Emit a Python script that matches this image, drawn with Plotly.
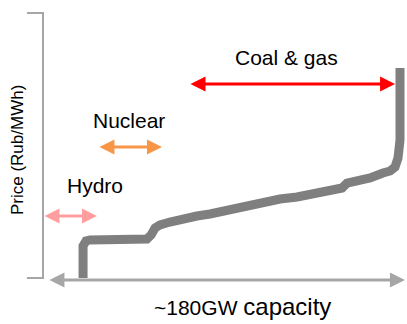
import plotly.graph_objects as go

# Merit-order supply curve: cumulative capacity (GW) vs. price (Rub/MWh)
capacity_gw = [20.2, 20.2, 21.7, 23.7, 52.4, 54.5, 56.5, 59.0, 64.0, 70.6,
               77.6, 84.2, 90.8, 95.8, 104.4, 110.9, 119.5, 128.1, 136.1,
               144.7, 150.8, 153.3, 156.3, 164.9, 171.4, 175.0, 177.5,
               179.0, 180.0, 180.0]
price = [0, 160, 185, 190, 195, 215, 250, 265, 280, 300,
         310, 320, 335, 345, 355, 375, 395, 405, 420,
         435, 450, 475, 480, 500, 525, 535, 555,
         600, 690, 1050]

# Price axis bracket
axis_x = [-8.1, 0, 0, -8.1]
axis_y = [1325, 1325, 0, 0]

# Technology spans (GW) and the price level each arrow is drawn at
segments = [
    # label, start, end, arrow level, label x, label y, colour
    ("Hydro", 0.0, 27.2, 310, 26.3, 465, "#ff9e9e"),
    ("Nuclear", 27.7, 60.0, 655, 43.3, 790, "#f79646"),
    ("Coal & gas", 73.6, 177.5, 970, 123.0, 1105, "#ff0000"),
]

# Capacity arrow along the bottom
cap_arrow = (2.5, 182.5, -10)

fig = go.Figure()
fig.add_trace(go.Scatter(x=axis_x, y=axis_y, mode="lines",
                         line=dict(color="#a6a6a6", width=2),
                         hoverinfo="skip", showlegend=False))
fig.add_trace(go.Scatter(x=capacity_gw, y=price, mode="lines",
                         line=dict(color="#7f7f7f", width=9),
                         showlegend=False))

font = dict(family="Arial, Liberation Sans, sans-serif", color="#000000")
annotations = []
for label, x0, x1, level, tx, ty, col in segments:
    annotations.append(dict(
        x=x1, y=level, ax=x0, ay=level, xref="x", yref="y",
        axref="x", ayref="y", text="", showarrow=True,
        arrowside="end+start", arrowhead=2, startarrowhead=2,
        arrowsize=1, startarrowsize=1, arrowwidth=3, arrowcolor=col,
        standoff=0, startstandoff=0))
    annotations.append(dict(
        x=tx, y=ty, xref="x", yref="y", text=label, showarrow=False,
        font=dict(size=21, **font)))

annotations.append(dict(
    x=cap_arrow[1], y=cap_arrow[2], ax=cap_arrow[0], ay=cap_arrow[2],
    xref="x", yref="y", axref="x", ayref="y", text="", showarrow=True,
    arrowside="end+start", arrowhead=2, startarrowhead=2,
    arrowsize=1, startarrowsize=1, arrowwidth=3, arrowcolor="#a6a6a6",
    standoff=0, startstandoff=0))
annotations.append(dict(
    x=100.8, y=-140, xref="x", yref="y",
    text="~180GW <span style='font-size:24px'>capacity</span>",
    showarrow=False, font=dict(size=21, **font)))
annotations.append(dict(
    x=-13.1, y=640, xref="x", yref="y", text="Price (Rub/MWh)",
    textangle=-90, showarrow=False, font=dict(size=17, **font)))

fig.update_layout(
    width=407, height=324,
    margin=dict(l=0, r=0, t=0, b=0),
    paper_bgcolor="white", plot_bgcolor="white",
    xaxis=dict(range=[-21.68, 183.53], visible=False, fixedrange=True),
    yaxis=dict(range=[-230, 1390], visible=False, fixedrange=True),
    annotations=annotations,
    showlegend=False,
)

fig.write_html("out.html")
